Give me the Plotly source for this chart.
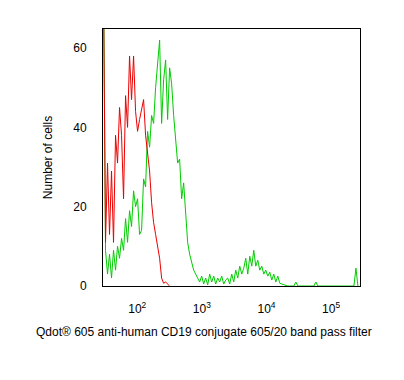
import numpy as np
import plotly.graph_objects as go

# Histogram bins: evenly spaced in log10 of fluorescence intensity
LOG_START = 1.478      # log10 of first bin centre
BIN_WIDTH = 0.031      # bin width in decades

red_counts = [75, 11, 31, 13, 29, 11, 38, 31, 45, 38, 22, 48, 40, 58, 47, 58,
              44, 39, 42, 45, 47, 38, 33, 29, 21, 16, 13, 10, 7, 2, 0.7, 1, 0.5, 0]

green_counts = [80, 9, 3, 8, 2, 9, 4, 10, 7, 12, 9, 17, 11, 19, 15, 24,
                20, 22, 13, 14, 27, 25, 39, 35, 43, 41, 50, 56, 62, 41, 52, 57,
                42, 55, 51, 43, 36, 31, 32, 22, 26, 19, 11, 8, 6, 4, 3, 2,
                1, 2.5, 0.5, 2, 0.3, 3, 1, 2.5, 0.5, 2, 1, 2.5, 0.5, 1.5, 2, 0.5,
                3, 1, 4, 2, 5, 3, 4.5, 7, 3, 7.5, 5, 9, 5, 6.5, 4, 5,
                3, 4, 2.5, 3.5, 1.5, 3, 1, 2.5, 0.7, 0.5, 0.3, 0, 0, 0, 0, 0,
                1, 0, 0, 0, 0, 0, 0, 0, 0, 0, 1, 0, 0, 0, 0, 0,
                0, 0, 0, 0, 0, 0, 0, 0, 0, 0, 0, 0, 0, 0, 4.5, 0]

tick_vals = [1e2, 1e3, 1e4, 1e5]
tick_text = ["10<sup>2</sup>", "10<sup>3</sup>", "10<sup>4</sup>", "10<sup>5</sup>"]
y_ticks = [0, 20, 40, 60]
x_title = "Qdot® 605 anti-human CD19 conjugate 605/20 band pass filter"
y_title = "Number of cells"

def bin_centres(n):
    return [10 ** (LOG_START + BIN_WIDTH * i) for i in range(n)]

fig = go.Figure()
fig.add_trace(go.Scatter(x=bin_centres(len(green_counts)), y=green_counts,
                         mode="lines", line=dict(color="rgb(0,204,0)", width=1),
                         showlegend=False))
fig.add_trace(go.Scatter(x=bin_centres(len(red_counts)), y=red_counts,
                         mode="lines", line=dict(color="rgb(235,0,0)", width=1),
                         showlegend=False))

font = dict(family="Liberation Sans, Arial, sans-serif", size=12, color="black")

# page has an 8px body margin, so the figure is 396x372 placed at (8,8)
W, H = 396, 372
L, R, T, B = 95, 44, 21, 94
fig.update_layout(
    width=W, height=H,
    margin=dict(l=L, r=R, t=T, b=B),
    paper_bgcolor="white", plot_bgcolor="white",
    font=font,
    xaxis=dict(type="log", range=[1.47, 5.447], tickvals=tick_vals, ticktext=tick_text,
               showgrid=False, zeroline=False, showline=True, mirror=True,
               linecolor="black", linewidth=1, ticks="", ticklabelstandoff=12),
    yaxis=dict(range=[0, 64.8], tickvals=y_ticks, showgrid=False, zeroline=False,
               showline=True, mirror=True, linecolor="black", linewidth=1,
               ticks="", ticklabelstandoff=13,
               title=dict(text=y_title, standoff=18, font=font)),
)
# x-axis title is centred on the whole figure in the reference
fig.add_annotation(text=x_title, xref="paper", yref="paper",
                   x=(W / 2 - 2 - L) / (W - L - R), y=-(323 - 8 - (H - B)) / (H - T - B),
                   xanchor="center", yanchor="top", showarrow=False, font=font)

fig.write_html("out.html")
